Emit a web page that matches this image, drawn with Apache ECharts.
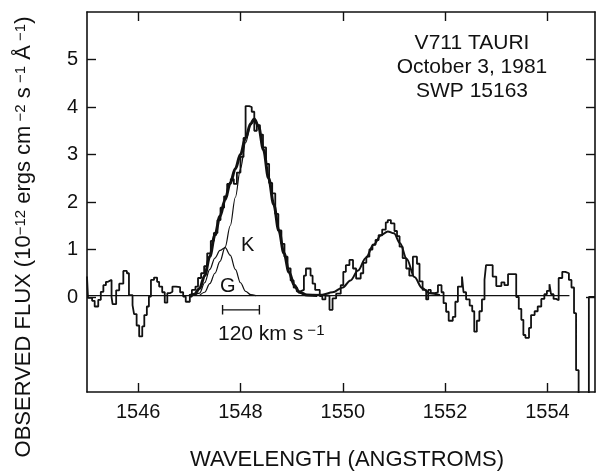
<!DOCTYPE html>
<html>
<head>
<meta charset="utf-8">
<script src="https://cdn.jsdelivr.net/npm/echarts@6.0.0/dist/echarts.min.js"></script>
<style>
  html, body { margin: 0; padding: 0; background: #fff; }
  #chart { width: 596px; height: 475px; }
</style>
</head>
<body>
<div id="chart"></div>
<script>
// observed flux, one value per bin, bin starts at fluxX[i]
const fluxX = [
  1545.00, 1545.02, 1545.10, 1545.15, 1545.22, 1545.27, 1545.32, 1545.37, 1545.41, 1545.48,
  1545.50, 1545.57, 1545.63, 1545.71, 1545.78, 1545.82, 1545.89, 1545.92, 1545.97, 1546.02,
  1546.08, 1546.12, 1546.17, 1546.21, 1546.25, 1546.31, 1546.37, 1546.41, 1546.47, 1546.52,
  1546.57, 1546.62, 1546.67, 1546.74, 1546.82, 1546.88, 1546.93, 1547.01, 1547.05, 1547.12,
  1547.17, 1547.23, 1547.29, 1547.35, 1547.42, 1547.48, 1547.55, 1547.61, 1547.68, 1547.74,
  1547.81, 1547.87, 1547.93, 1548.00, 1548.06, 1548.10, 1548.17, 1548.22, 1548.27, 1548.32,
  1548.38, 1548.44, 1548.50, 1548.56, 1548.62, 1548.68, 1548.74, 1548.80, 1548.86, 1548.92,
  1548.98, 1549.04, 1549.10, 1549.17, 1549.24, 1549.28, 1549.37, 1549.41, 1549.46, 1549.55,
  1549.60, 1549.66, 1549.74, 1549.80, 1549.87, 1549.96, 1550.01, 1550.06, 1550.13, 1550.20,
  1550.26, 1550.35, 1550.40, 1550.46, 1550.52, 1550.58, 1550.64, 1550.70, 1550.77, 1550.84,
  1550.88, 1550.94, 1551.01, 1551.06, 1551.11, 1551.17, 1551.24, 1551.30, 1551.37, 1551.45,
  1551.50, 1551.56, 1551.63, 1551.67, 1551.72, 1551.80, 1551.86, 1551.93, 1551.97, 1552.02,
  1552.07, 1552.15, 1552.20, 1552.25, 1552.33, 1552.36, 1552.41, 1552.48, 1552.53, 1552.57,
  1552.62, 1552.67, 1552.72, 1552.77, 1552.80, 1552.93, 1553.00, 1553.10, 1553.16, 1553.23,
  1553.39, 1553.44, 1553.49, 1553.53, 1553.57, 1553.64, 1553.68, 1553.75, 1553.81, 1553.88,
  1553.94, 1553.99, 1554.04, 1554.07, 1554.12, 1554.17, 1554.22, 1554.29, 1554.35, 1554.42,
  1554.47, 1554.52, 1554.56, 1554.61, 1554.81, 1554.93
];
const fluxY = [
  0.43, -0.02, -0.08, -0.20, -0.06, 0.11, 0.25, 0.32, 0.36, 0.00,
  -0.15, 0.14, 0.28, 0.55, 0.50, 0.04, -0.17, -0.36, -0.60, -0.83,
  -0.62, -0.38, -0.20, 0.01, 0.36, 0.41, 0.32, 0.22, 0.10, -0.12,
  0.08, 0.11, 0.22, 0.21, 0.10, 0.01, -0.10, 0.01, 0.15, 0.22,
  0.40, 0.50, 0.65, 0.92, 1.18, 1.35, 1.62, 1.88, 2.12, 2.38,
  2.48, 2.38, 2.62, 2.95, 3.35, 4.02, 4.00, 3.90, 3.50, 3.62,
  3.42, 3.15, 2.80, 2.40, 2.18, 1.75, 1.40, 1.12, 0.85, 0.60,
  0.35, 0.20, 0.12, 0.15, 0.45, 0.60, 0.45, 0.28, 0.15, 0.02,
  -0.05, 0.03, -0.27, -0.03, 0.07, 0.25, 0.53, 0.67, 0.78, 0.60,
  0.39, 0.50, 0.72, 0.85, 1.00, 1.10, 1.20, 1.30, 1.42, 1.57,
  1.62, 1.55, 1.39, 1.28, 1.06, 0.82, 0.60, 0.45, 0.85, 0.70,
  0.33, 0.15, -0.05, 0.15, 0.08, 0.10, 0.25, 0.10, -0.13, -0.31,
  -0.50, -0.42, -0.10, 0.22, 0.43, 0.10, -0.05, -0.18, -0.30, -0.73,
  -0.50, -0.30, -0.05, 0.36, 0.67, 0.43, 0.23, 0.31, 0.25, 0.48,
  0.00, -0.25, -0.48, -0.80, -0.86, -0.65, -0.38, -0.30, -0.20, -0.04,
  0.06, 0.13, 0.27, 0.06, -0.04, -0.07, 0.40, 0.53, 0.50, 0.36,
  0.20, -0.34, -1.54, -2.60, 0.00, 0.00
];

// fitted profiles: K + G sum, K alone, G alone, and the second line
const sumX = [1547.0, 1547.1, 1547.2, 1547.3, 1547.4, 1547.5, 1547.6, 1547.7, 1547.8, 1547.9,
  1548.0, 1548.1, 1548.2, 1548.27, 1548.35, 1548.45, 1548.55, 1548.65, 1548.75, 1548.85,
  1548.95, 1549.05, 1549.15, 1549.3, 1549.5];
const sumY = [0.03, 0.06, 0.18, 0.45, 0.85, 1.30, 1.70, 2.05, 2.40, 2.70,
  3.00, 3.35, 3.65, 3.75, 3.60, 3.10, 2.50, 1.95, 1.40, 0.92,
  0.52, 0.25, 0.10, 0.04, 0.03];
const kX = [1547.2, 1547.3, 1547.4, 1547.5, 1547.6, 1547.7, 1547.8, 1547.9, 1548.0, 1548.1,
  1548.2, 1548.27, 1548.35];
const kY = [0.03, 0.10, 0.28, 0.50, 0.75, 1.05, 1.50, 2.10, 2.70, 3.25,
  3.62, 3.75, 3.60];
const gX = [1547.1, 1547.2, 1547.3, 1547.4, 1547.5, 1547.6, 1547.7, 1547.8, 1547.9, 1548.0,
  1548.1, 1548.2, 1548.3];
const gY = [0.03, 0.08, 0.30, 0.58, 0.82, 0.98, 1.04, 0.88, 0.58, 0.30,
  0.12, 0.05, 0.03];
const fit2X = [1549.3, 1549.6, 1549.8, 1550.0, 1550.15, 1550.3, 1550.45, 1550.6, 1550.75, 1550.88,
  1551.0, 1551.12, 1551.25, 1551.4, 1551.55, 1551.7, 1551.9];
const fit2Y = [0.04, 0.05, 0.10, 0.20, 0.35, 0.56, 0.82, 1.10, 1.30, 1.38,
  1.34, 1.13, 0.80, 0.42, 0.19, 0.08, 0.04];

const baselineX = [1545.0, 1554.43];
const baselineY = 0.03;

// 120 km/s velocity bar
const barX = [1547.65, 1548.37];
const barY = -0.27;
const barCap = 0.1;

const lineLabels = ["K", "G"];
const lineLabelX = [1548.14, 1547.75];
const lineLabelY = [1.09, 0.22];

const xTicks = [1546, 1548, 1550, 1552, 1554];
const yTicks = [0, 1, 2, 3, 4, 5];

const FONT = "Liberation Sans";
const INK = "#111";

const zip = (xs, ys) => xs.map((x, i) => [x, ys[i]]);

const chart = echarts.init(document.getElementById("chart"));

const axisLine = { show: true, onZero: false, lineStyle: { color: INK, width: 1.6 } };
const tick = (vals) => ({ show: true, inside: true, length: 9, customValues: vals, lineStyle: { color: INK, width: 1.4 } });

// K curve follows the sum on its red side
const kData = zip(kX, kY).concat(zip(sumX, sumY).filter((p) => p[0] > 1548.35));

const fitLine = (data, width) => ({
  type: "line",
  data,
  smooth: 0.35,
  smoothMonotone: "x",
  showSymbol: false,
  symbol: "none",
  silent: true,
  lineStyle: { color: INK, width },
});

chart.setOption({
  animation: false,
  backgroundColor: "#fff",
  grid: { left: 87, right: 1, top: 12, bottom: 83 },
  xAxis: [
    {
      type: "value", min: 1545, max: 1554.93, position: "bottom",
      axisLine, axisTick: tick(xTicks), splitLine: { show: false },
      axisLabel: {
        customValues: xTicks, formatter: (v) => String(v),
        color: INK, fontFamily: FONT, fontSize: 20, margin: 10,
      },
    },
    {
      type: "value", min: 1545, max: 1554.93, position: "top",
      axisLine, axisTick: tick(xTicks), splitLine: { show: false }, axisLabel: { show: false },
    },
  ],
  yAxis: [
    {
      type: "value", min: -2, max: 6, position: "left",
      axisLine, axisTick: tick(yTicks), splitLine: { show: false },
      axisLabel: { customValues: yTicks, color: INK, fontFamily: FONT, fontSize: 20, margin: 9 },
    },
    {
      type: "value", min: -2, max: 6, position: "right",
      axisLine, axisTick: tick(yTicks), splitLine: { show: false }, axisLabel: { show: false },
    },
  ],
  series: [
    {
      type: "line", data: baselineX.map((x) => [x, baselineY]),
      showSymbol: false, symbol: "none", silent: true,
      lineStyle: { color: INK, width: 1.1 },
    },
    {
      type: "line", data: zip(fluxX, fluxY), step: "end",
      showSymbol: false, symbol: "none", silent: true,
      lineStyle: { color: INK, width: 1.8 },
    },
    fitLine(zip(gX, gY), 1.2),
    fitLine(kData, 1.2),
    fitLine(zip(sumX, sumY), 3),
    fitLine(zip(fit2X, fit2Y), 2),
    {
      type: "line",
      data: [
        [barX[0], barY + barCap], [barX[0], barY - barCap], [barX[0], barY],
        [barX[1], barY], [barX[1], barY + barCap], [barX[1], barY - barCap],
      ],
      showSymbol: false, symbol: "none", silent: true,
      lineStyle: { color: INK, width: 1.4 },
    },
    {
      type: "scatter",
      data: lineLabels.map((t, i) => [lineLabelX[i], lineLabelY[i], t]),
      symbolSize: 0, itemStyle: { color: INK, opacity: 1 }, silent: true,
      label: {
        show: true, position: "inside", formatter: (p) => p.value[2],
        color: INK, opacity: 1, textBorderWidth: 0, fontFamily: FONT, fontSize: 20,
      },
    },
  ],
  graphic: [
    {
      type: "text", x: 472, y: 43,
      style: { text: "V711 TAURI", fontFamily: FONT, fontSize: 21, fill: INK, align: "center", verticalAlign: "middle" },
    },
    {
      type: "text", x: 472, y: 67,
      style: { text: "October 3, 1981", fontFamily: FONT, fontSize: 21, fill: INK, align: "center", verticalAlign: "middle" },
    },
    {
      type: "text", x: 472, y: 91,
      style: { text: "SWP 15163", fontFamily: FONT, fontSize: 21, fill: INK, align: "center", verticalAlign: "middle" },
    },
    {
      type: "text", x: 218, y: 334,
      style: {
        text: "{m|120 km s}{s| \u22121}",
        align: "left", verticalAlign: "middle",
        rich: {
          m: { fontFamily: FONT, fontSize: 21, fill: INK, verticalAlign: "bottom" },
          s: { fontFamily: FONT, fontSize: 15, fill: INK, verticalAlign: "top" },
        },
      },
    },
    {
      type: "text", x: 347, y: 460,
      style: { text: "WAVELENGTH (ANGSTROMS)", fontFamily: FONT, fontSize: 22, fill: INK, align: "center", verticalAlign: "middle" },
    },
    {
      type: "text", x: 24, y: 237, rotation: Math.PI / 2,
      style: {
        text: "{m|OBSERVED FLUX (10}{s|\u221212}{m| ergs cm}{s| \u22122}{m| s}{s| \u22121}{m| \u00C5}{s| \u22121}{m|)}",
        align: "center", verticalAlign: "middle",
        rich: {
          m: { fontFamily: FONT, fontSize: 22, fill: INK, verticalAlign: "bottom" },
          s: { fontFamily: FONT, fontSize: 15, fill: INK, verticalAlign: "top" },
        },
      },
    },
  ],
});
</script>
</body>
</html>
